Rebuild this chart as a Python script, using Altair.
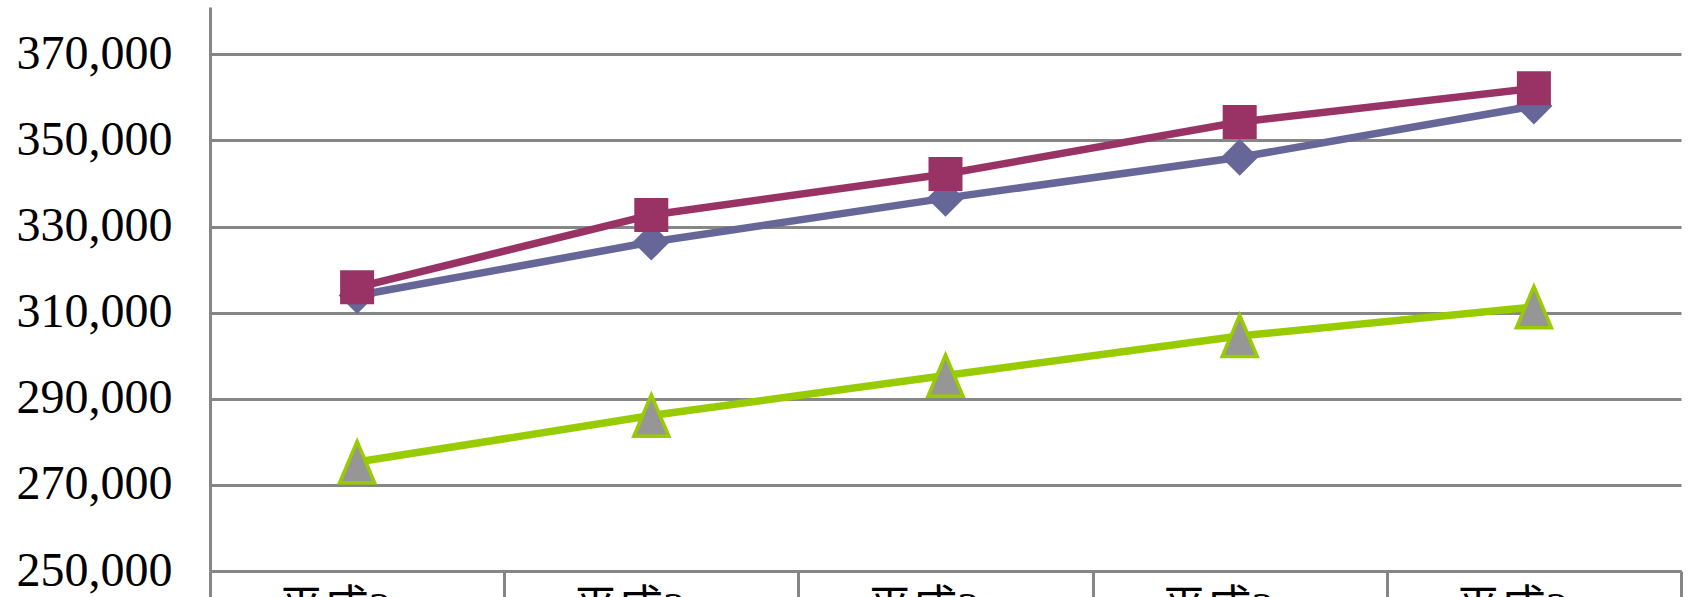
import altair as alt
import pandas as pd

years = ["平成20年度", "平成21年度", "平成22年度", "平成23年度", "平成24年度"]
series_a = [314000, 326400, 336600, 346100, 358000]   # diamonds
series_b = [315900, 332700, 342200, 354300, 362100]   # squares
series_c = [275300, 286100, 295400, 304600, 311300]   # triangles
y_ticks = [250000, 270000, 290000, 310000, 330000, 350000, 370000]

rows = []
for name, vals in [("A", series_a), ("B", series_b), ("C", series_c)]:
    for y, v in zip(years, vals):
        rows.append({"year": y, "value": v, "series": name})
df = pd.DataFrame(rows)

GRID = "#868686"
SERIF = "Liberation Serif, Noto Sans CJK JP"

x_enc = alt.X(
    "year:N",
    sort=years,
    bandPosition=0.5,
    scale=alt.Scale(type="band", paddingInner=0, paddingOuter=0),
    axis=alt.Axis(
        title=None,
        labelAngle=0,
        tickBand="extent",
        tickSize=30,
        tickColor=GRID,
        tickWidth=3,
        domainColor=GRID,
        domainWidth=3,
        labelFont=SERIF,
        labelFontSize=45,
        labelColor="#000000",
        labelPadding=-15,
        labelBaseline="top",
        grid=False,
    ),
)
y_enc = alt.Y(
    "value:Q",
    scale=alt.Scale(domain=[250000, 381000], nice=False, zero=False),
    axis=alt.Axis(
        title=None,
        values=y_ticks,
        format=",d",
        ticks=False,
        grid=True,
        gridColor=GRID,
        gridWidth=3.2,
        domainColor=GRID,
        domainWidth=3,
        labelFont=SERIF,
        labelFontSize=48,
        labelColor="#000000",
        labelPadding=38,
    ),
)

specs = [
    ("A", "#666699", dict(shape="diamond", size=1369, filled=True, fill="#666699",
                          strokeWidth=0, opacity=1)),
    ("B", "#993366", dict(shape="square", size=1156, filled=True, fill="#993366",
                          strokeWidth=0, opacity=1)),
    ("C", "#99CC00", dict(shape="M0,-1.18L1,1.18L-1,1.18Z", size=1225, filled=True,
                          fill="#969696", stroke="#99CC00", strokeWidth=3.5, opacity=1)),
]

layers = []
for name, color, pt in specs:
    base = alt.Chart(df).transform_filter(alt.datum.series == name)
    layers.append(base.mark_line(color=color, strokeWidth=7.5).encode(x=x_enc, y=y_enc))
    layers.append(base.mark_point(**pt).encode(x=x_enc, y=y_enc))

chart = alt.layer(*layers).properties(
    width=1471,
    height=564,
    padding={"left": 210, "top": 7, "right": 9, "bottom": 26},
    autosize=alt.AutoSizeParams(type="none"),
    background="#ffffff",
).configure_view(stroke=None)

chart.save("out.html", embed_options={"renderer": "svg", "actions": False})
